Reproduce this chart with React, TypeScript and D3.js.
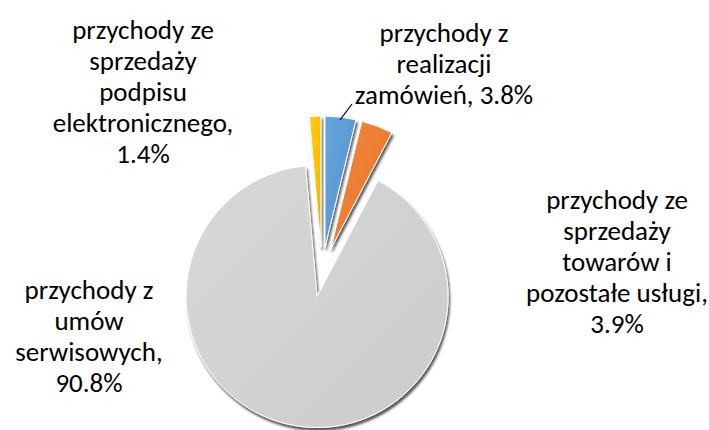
import React from "react";
import * as d3 from "d3";

// chart data
const categories: string[][] = [
  ["przychody z", "realizacji", "zamówień, 3.8%"],
  ["przychody ze", "sprzedaży", "towarów i", "pozostałe usługi,", "3.9%"],
  ["przychody z", "umów", "serwisowych,", "90.8%"],
  ["przychody ze", "sprzedaży", "podpisu", "elektronicznego,", "1.4%"],
];
const values: number[] = [3.8, 3.9, 90.8, 1.4];

const colors = ["#5B9BD5", "#ED7D31", "#D2D2D2", "#FFC000"];
const darkColors = ["#4F8AC0", "#D86E27", "#CBCBCB", "#E8AE00"];
const lightColors = ["#66A5DC", "#F08A42", "#D8D8D8", "#FFC818"];

const width = 709;
const height = 430;
const center = { x: 322, y: 272 };
const radius = 131;
const explode = 25;

// label anchors (center of first line), text-anchor middle
const labelPos = [
  { x: 444, y: 42 },
  { x: 617, y: 209 },
  { x: 89, y: 299 },
  { x: 143, y: 39 },
];
const lineHeight = 31;

export default function App() {
  const pie = d3
    .pie<number>()
    .sort(null)
    .value((d) => d);
  const arcs = pie(values);
  const arc = d3.arc<d3.PieArcDatum<number>>().innerRadius(0).outerRadius(radius);

  return (
    <svg
      width={width}
      height={height}
      style={{ position: "absolute", left: 0, top: 0 }}
      fontFamily="Carlito, Lato, 'Liberation Sans', sans-serif"
    >
      <defs>
        <filter id="shadow" x="-20%" y="-20%" width="140%" height="140%">
          <feDropShadow dx="1.5" dy="3" stdDeviation="1.2" floodColor="#000" floodOpacity="0.65" />
        </filter>
        {colors.map((c, i) => (
          <linearGradient key={i} id={`g${i}`} x1="0" y1="0" x2="1" y2="1">
            <stop offset="0" stopColor={lightColors[i]} />
            <stop offset="0.5" stopColor={c} />
            <stop offset="1" stopColor={darkColors[i]} />
          </linearGradient>
        ))}
      </defs>
      <rect width={width} height={height} fill="#fff" />
      <g transform={`translate(${center.x},${center.y})`}>
        {arcs.map((a, i) => {
          const mid = (a.startAngle + a.endAngle) / 2;
          const dx = Math.sin(mid) * explode;
          const dy = -Math.cos(mid) * explode;
          return (
            <g key={i} transform={`translate(${dx},${dy})`}>
              <path
                d={arc(a) || ""}
                fill={`url(#g${i})`}
                stroke="#fff"
                strokeWidth={1}
                filter="url(#shadow)"
              />
            </g>
          );
        })}
      </g>
      {/* leader line for the blue slice */}
      <line x1={352} y1={104} x2={340} y2={120} stroke="#000" strokeWidth={1.2} />
      {categories.map((lines, i) => (
        <text
          key={i}
          x={labelPos[i].x}
          y={labelPos[i].y}
          textAnchor="middle"
          fontSize={27}
          fill="#000"
        >
          {lines.map((ln, j) => (
            <tspan key={j} x={labelPos[i].x} dy={j === 0 ? 0 : lineHeight}>
              {ln}
            </tspan>
          ))}
        </text>
      ))}
    </svg>
  );
}
